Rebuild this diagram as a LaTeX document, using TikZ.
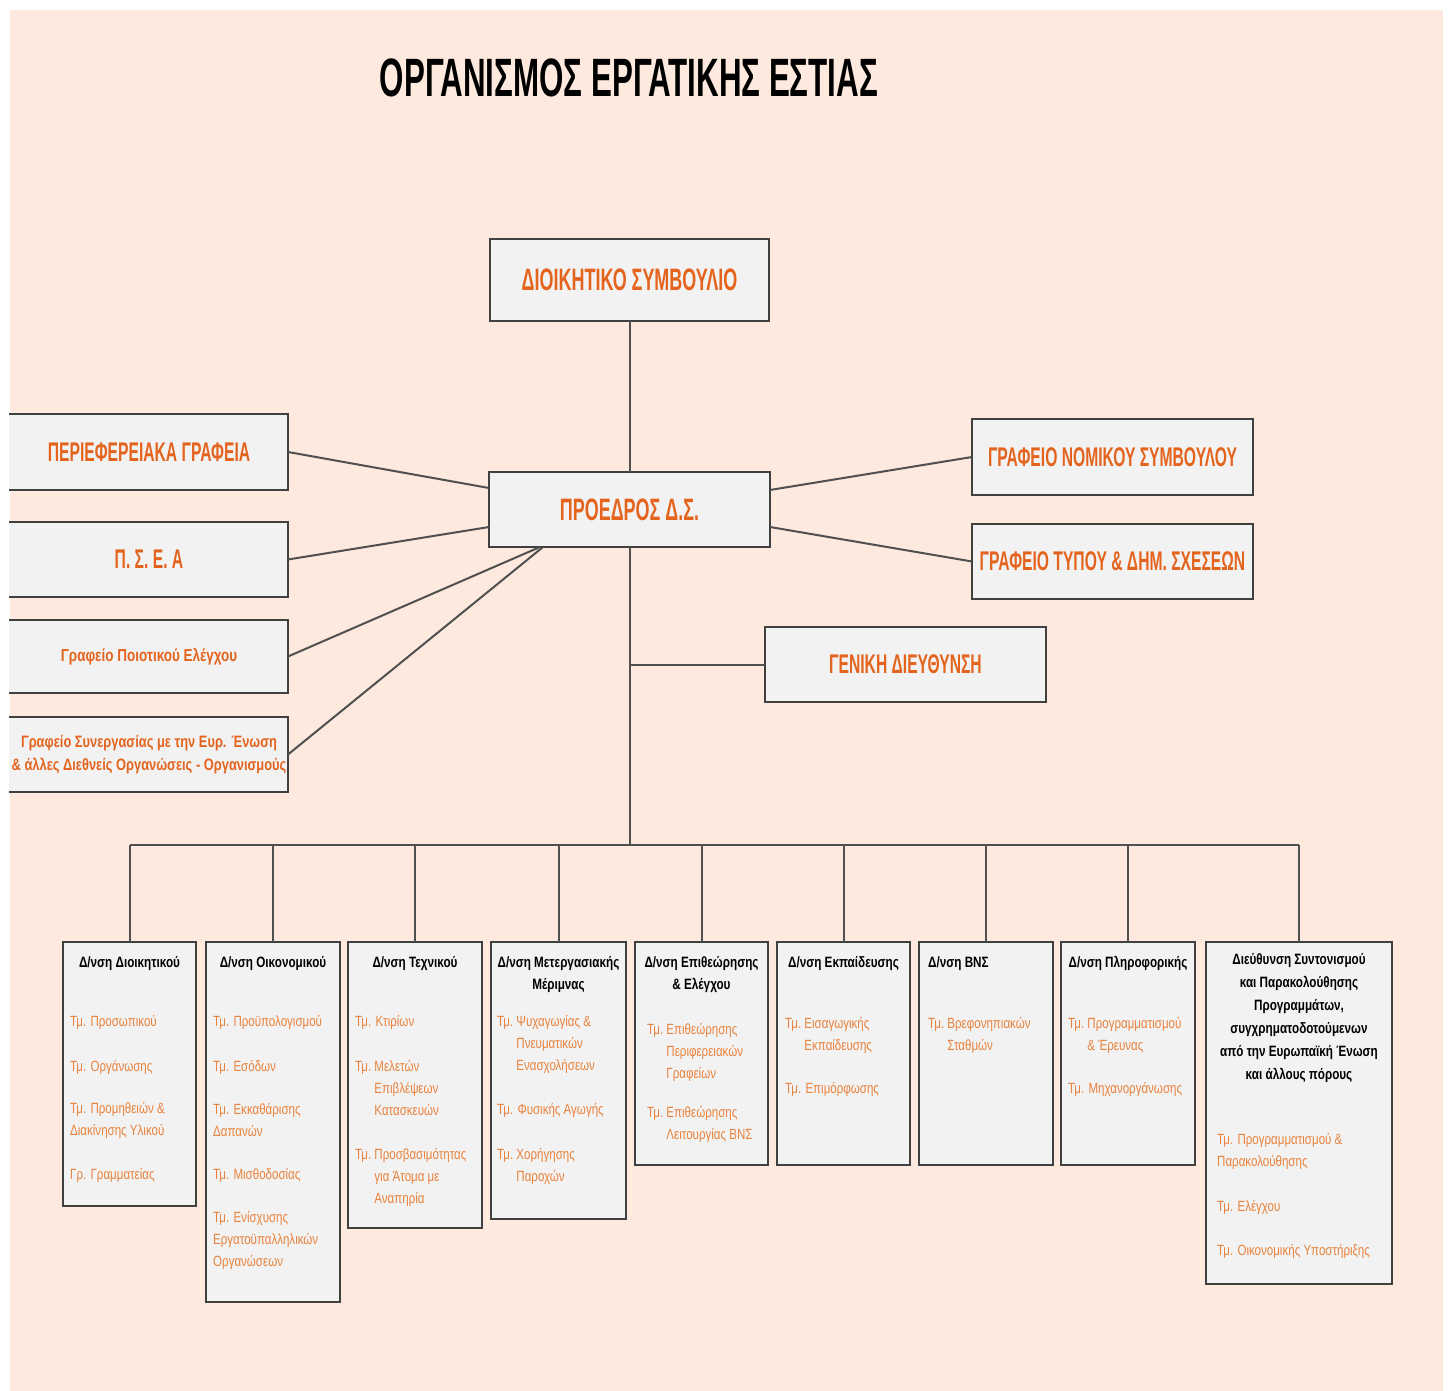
\documentclass[tikz,border=0pt]{standalone}
\usepackage{fontspec}
\setmainfont{Liberation Sans}
\newfontfamily\condf[FakeStretch=0.58]{Liberation Sans}
\newfontfamily\semif[FakeStretch=0.78]{Liberation Sans}
\definecolor{peach}{RGB}{253,233,222}
\definecolor{boxc}{RGB}{242,242,242}
\definecolor{bordc}{RGB}{64,64,64}
\definecolor{linec}{RGB}{80,80,80}
\definecolor{orgc}{RGB}{228,100,30}
\definecolor{itc}{RGB}{232,130,60}
\newcommand\ml[1]{\begin{tabular}[t]{@{}l@{}}#1\end{tabular}}
\newcommand\mc[1]{\begin{tabular}[t]{@{}c@{}}#1\end{tabular}}
\newcommand\hg[1]{Τμ.\ \ml{#1}}
\begin{document}
\begin{tikzpicture}[x=1pt,y=-1pt,
  bx/.style={draw=bordc, fill=boxc, line width=2pt, inner sep=0pt, outer sep=0pt},
  bigt/.style={text=orgc, font=\condf\bfseries\fontsize{31}{34}\selectfont},
  sidet/.style={text=orgc, font=\condf\bfseries\fontsize{27}{30}\selectfont},
  smallt/.style={text=orgc, font=\semif\bfseries\fontsize{16.5}{23}\selectfont},
  hd/.style={anchor=base, inner sep=0pt, text=black, font=\semif\bfseries\fontsize{15}{22}\selectfont},
  it/.style={anchor=base west, inner sep=0pt, text=itc, font=\semif\fontsize{14.8}{22}\selectfont},
  conn/.style={draw=linec, line width=2pt}]
\useasboundingbox (0,0) rectangle (1452,1391);
\clip (0,0) rectangle (1452,1391);
\fill[white] (0,0) rectangle (1452,1391);
\fill[peach] (10,10) rectangle (1443,1400);

\node[inner sep=0pt, font=\condf\bfseries\fontsize{54}{60}\selectfont] (title) at (629,78) {ΟΡΓΑΝΙΣΜΟΣ ΕΡΓΑΤΙΚΗΣ ΕΣΤΙΑΣ};

% top boxes
\node[bx, bigt, minimum width=279, minimum height=82] (ds) at (629.5,280) {ΔΙΟΙΚΗΤΙΚΟ ΣΥΜΒΟΥΛΙΟ};
\node[bx, bigt, minimum width=281, minimum height=75] (pr) at (629.5,509.5) {ΠΡΟΕΔΡΟΣ Δ.Σ.};

\node[bx, sidet, minimum width=290, minimum height=76] (peri) at (143,452) {\hspace*{12pt}ΠΕΡΙΕΦΕΡΕΙΑΚΑ ΓΡΑΦΕΙΑ};
\node[bx, sidet, minimum width=290, minimum height=75] (psea) at (143,559.5) {\hspace*{12pt}Π. Σ. Ε. Α};
\node[bx, smallt, font=\semif\bfseries\fontsize{17.3}{23}\selectfont, minimum width=290, minimum height=73] (poio) at (143,656.5) {\hspace*{12pt}Γραφείο Ποιοτικού Ελέγχου};
\node[bx, smallt, minimum width=290, minimum height=75] (syn) at (143,754.5) {\hspace*{12pt}\mc{Γραφείο Συνεργασίας με την Ευρ. Ένωση\\\& άλλες Διεθνείς Οργανώσεις - Οργανισμούς}};

\node[bx, sidet, minimum width=281, minimum height=76] (nom) at (1112.5,457) {ΓΡΑΦΕΙΟ ΝΟΜΙΚΟΥ ΣΥΜΒΟΥΛΟΥ};
\node[bx, sidet, minimum width=281, minimum height=75] (typ) at (1112.5,561.5) {ΓΡΑΦΕΙΟ ΤΥΠΟΥ \& ΔΗΜ. ΣΧΕΣΕΩΝ};
\node[bx, sidet, minimum width=281, minimum height=75] (gd) at (905.5,664.5) {ΓΕΝΙΚΗ ΔΙΕΥΘΥΝΣΗ};

% bottom boxes
\node[bx, minimum width=133, minimum height=264] (d1) at (129.5,1074) {};
\node[bx, minimum width=134, minimum height=360] (d2) at (273,1122) {};
\node[bx, minimum width=134, minimum height=286] (d3) at (415,1085) {};
\node[bx, minimum width=135, minimum height=277] (d4) at (558.5,1080.5) {};
\node[bx, minimum width=133, minimum height=223] (d5) at (701.5,1053.5) {};
\node[bx, minimum width=133, minimum height=223] (d6) at (843.5,1053.5) {};
\node[bx, minimum width=134, minimum height=223] (d7) at (986,1053.5) {};
\node[bx, minimum width=134, minimum height=223] (d8) at (1128,1053.5) {};
\node[bx, minimum width=186, minimum height=342] (d9) at (1299,1113) {};

% coordinates
\coordinate (prL1) at (489,488);
\coordinate (prL2) at (489,527);
\coordinate (prB1) at (540,547);
\coordinate (prB2) at (543,547);
\coordinate (prR1) at (770,490);
\coordinate (prR2) at (770,527);
\coordinate (bus) at (629.5,845);

% connectors
\draw[conn] (ds.south) -- (pr.north);
\draw[conn] (peri.east) -- (prL1);
\draw[conn] (psea.east) -- (prL2);
\draw[conn] (poio.east) -- (prB1);
\draw[conn] (syn.east) -- (prB2);
\draw[conn] (nom.west) -- (prR1);
\draw[conn] (typ.west) -- (prR2);
\draw[conn] (pr.south) -- (bus);
\draw[conn] (gd.west -| pr.south) -- (gd.west);
\draw[conn] (d1.north |- bus) -- (d9.north |- bus);
\foreach \d in {d1,d2,d3,d4,d5,d6,d7,d8,d9} \draw[conn] (\d.north |- bus) -- (\d.north);

% box 1
\node[hd] (h1) at (129.5,967) {Δ/νση Διοικητικού};
\node[it] (i11) at (70,1026) {Τμ. Προσωπικού};
\node[it] (i12) at (70,1071) {Τμ. Οργάνωσης};
\node[it] (i13) at (70,1113) {\ml{Τμ. Προμηθειών \&\\Διακίνησης Υλικού}};
\node[it] (i14) at (70,1179) {Γρ. Γραμματείας};
% box 2
\node[hd] (h2) at (273,967) {Δ/νση Οικονομικού};
\node[it] (i21) at (213,1026) {Τμ. Προϋπολογισμού};
\node[it] (i22) at (213,1071) {Τμ. Εσόδων};
\node[it] (i23) at (213,1114) {\ml{Τμ. Εκκαθάρισης\\Δαπανών}};
\node[it] (i24) at (213,1179) {Τμ. Μισθοδοσίας};
\node[it] (i25) at (213,1222) {\ml{Τμ. Ενίσχυσης\\Εργατοϋπαλληλικών\\Οργανώσεων}};
% box 3
\node[hd] (h3) at (415,967) {Δ/νση Τεχνικού};
\node[it] (i31) at (355,1026) {Τμ. Κτιρίων};
\node[it] (i32) at (355,1071) {\hg{Μελετών\\Επιβλέψεων\\Κατασκευών}};
\node[it] (i33) at (355,1159) {\hg{Προσβασιμότητας\\για Άτομα με\\Αναπηρία}};
% box 4
\node[hd] (h4) at (558.5,967) {\mc{Δ/νση Μετεργασιακής\\Μέριμνας}};
\node[it] (i41) at (497,1026) {\hg{Ψυχαγωγίας \&\\Πνευματικών\\Ενασχολήσεων}};
\node[it] (i42) at (497,1114) {Τμ. Φυσικής Αγωγής};
\node[it] (i43) at (497,1159) {\hg{Χορήγησης\\Παροχών}};
% box 5
\node[hd] (h5) at (701.5,967) {\mc{Δ/νση Επιθεώρησης\\\& Ελέγχου}};
\node[it] (i51) at (647,1034) {\hg{Επιθεώρησης\\Περιφερειακών\\Γραφείων}};
\node[it] (i52) at (647,1117) {\hg{Επιθεώρησης\\Λειτουργίας ΒΝΣ}};
% box 6
\node[hd] (h6) at (843.5,967) {Δ/νση Εκπαίδευσης};
\node[it] (i61) at (785,1028) {\hg{Εισαγωγικής\\Εκπαίδευσης}};
\node[it] (i62) at (785,1093) {Τμ. Επιμόρφωσης};
% box 7
\node[hd, anchor=base west] (h7) at (928,967) {Δ/νση ΒΝΣ};
\node[it] (i71) at (928,1028) {\hg{Βρεφονηπιακών\\Σταθμών}};
% box 8
\node[hd] (h8) at (1128,967) {Δ/νση Πληροφορικής};
\node[it] (i81) at (1068,1028) {\hg{Προγραμματισμού\\\& Έρευνας}};
\node[it] (i82) at (1068,1093) {Τμ. Μηχανοργάνωσης};
% box 9
\node[hd, font=\semif\bfseries\fontsize{15}{23}\selectfont] (h9) at (1299,964) {\mc{Διεύθυνση Συντονισμού\\και Παρακολούθησης\\Προγραμμάτων,\\συγχρηματοδοτούμενων\\από την Ευρωπαϊκή Ένωση\\και άλλους πόρους}};
\node[it] (i91) at (1217,1144) {\ml{Τμ. Προγραμματισμού \&\\Παρακολούθησης}};
\node[it] (i92) at (1217,1211) {Τμ. Ελέγχου};
\node[it] (i93) at (1217,1255) {Τμ. Οικονομικής Υποστήριξης};

% white page margin on the left, over the cut-off boxes
\fill[white] (0,0) rectangle (9,1391);
\end{tikzpicture}
\end{document}
